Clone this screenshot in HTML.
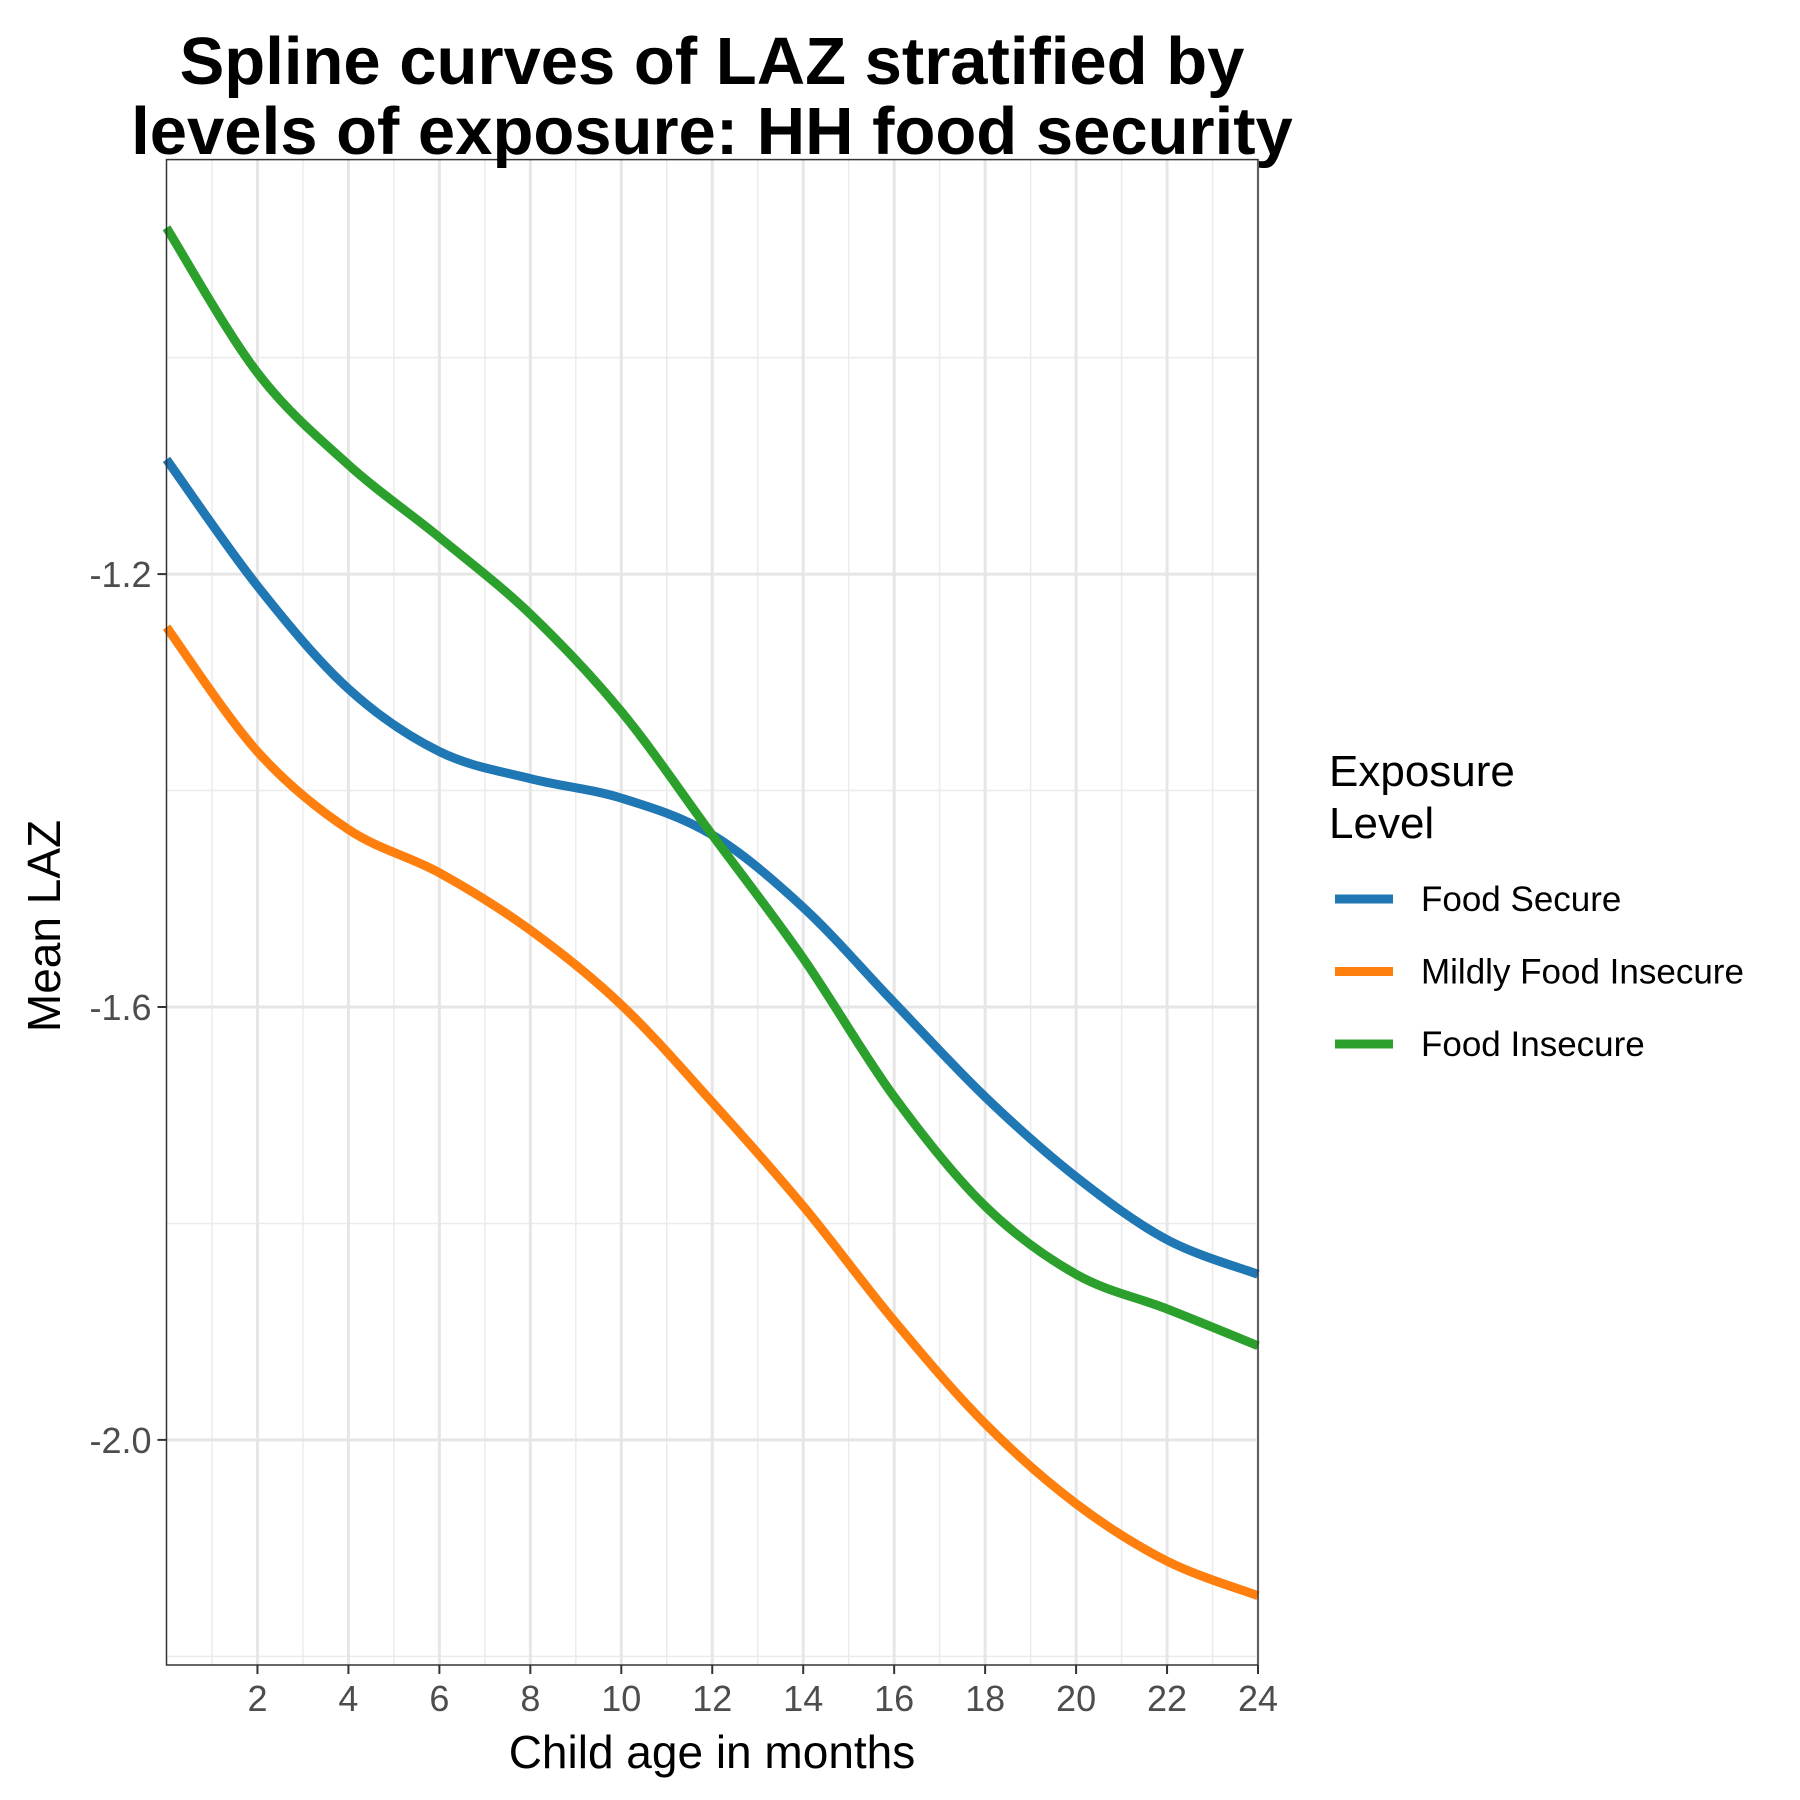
<!DOCTYPE html>
<html><head><meta charset="utf-8"><style>body{margin:0;background:#fff}svg{display:block;font-family:"Liberation Sans",Arial,sans-serif}</style></head>
<body>
<svg id="chart" width="1800" height="1800" viewBox="0 0 1800 1800">
<g id="grid"></g>
<g id="series"></g>
<rect x="166.5" y="159.6" width="1091.5" height="1505.4" fill="none" stroke="#333" stroke-width="1.5"/>
<g id="axes"></g>
<text x="712" y="84" text-anchor="middle" font-size="67" font-weight="bold">Spline curves of LAZ stratified by</text>
<text x="712" y="154" text-anchor="middle" font-size="67" font-weight="bold">levels of exposure: HH food security</text>
<text x="712" y="1768" text-anchor="middle" font-size="46">Child age in months</text>
<text transform="translate(60,926) rotate(-90)" text-anchor="middle" font-size="46">Mean LAZ</text>
<g>
<text x="1329" y="786" font-size="44">Exposure</text>
<text x="1329" y="838" font-size="44">Level</text>
<g id="legend-items"></g>
</g>
</svg>
<script>
const months=[0,2,4,6,8,10,12,14,16,18,20,22,24];
const foodSecure=[-1.094,-1.211,-1.306,-1.364,-1.389,-1.407,-1.441,-1.508,-1.596,-1.683,-1.757,-1.815,-1.847];
const mildlyInsecure=[-1.249,-1.364,-1.436,-1.476,-1.529,-1.598,-1.688,-1.784,-1.890,-1.985,-2.059,-2.112,-2.144];
const foodInsecure=[-0.880,-1.014,-1.099,-1.166,-1.237,-1.327,-1.441,-1.555,-1.683,-1.784,-1.847,-1.879,-1.913];
const seriesNames=["Food Secure","Mildly Food Insecure","Food Insecure"];
const xTicks=[2,4,6,8,10,12,14,16,18,20,22,24];
const yTicks=[-1.2,-1.6,-2.0];
const yTickLabels=["-1.2","-1.6","-2.0"];
const yMinor=[-1.0,-1.4,-1.8,-2.2];

const NS="http://www.w3.org/2000/svg";
const X0=166.5,X1=1258,Y0=159.6,Y1=1665;
const xMin=0,xMax=24,yMax=-0.817,yMin=-2.208;
function sx(v){return X0+(v-xMin)/(xMax-xMin)*(X1-X0);}
function sy(v){return Y0+(yMax-v)/(yMax-yMin)*(Y1-Y0);}
function mk(tag,attrs,parent){const e=document.createElementNS(NS,tag);for(const k in attrs)e.setAttribute(k,attrs[k]);parent.appendChild(e);return e;}
const grid=document.getElementById('grid'),axes=document.getElementById('axes'),ser=document.getElementById('series'),leg=document.getElementById('legend-items');
for(let m=1;m<24;m+=2){const l=mk('line',{x1:sx(m),x2:sx(m),y1:Y0,y2:Y1,stroke:'#ebebeb','stroke-width':1.5},grid);

}
yMinor.forEach(v=>{const l=mk('line',{x1:X0,x2:X1,y1:sy(v),y2:sy(v),stroke:'#ebebeb','stroke-width':1.5},grid);

});
xTicks.forEach(v=>{const l=mk('line',{x1:sx(v),x2:sx(v),y1:Y0,y2:Y1,stroke:'#e6e6e6','stroke-width':3},grid);


const t=mk('line',{x1:sx(v),x2:sx(v),y1:Y1,y2:Y1+9,stroke:'#333','stroke-width':2},axes);


const tx=mk('text',{x:sx(v),y:Y1+46,'text-anchor':'middle','font-size':36,fill:'#4d4d4d'},axes);
tx.textContent=v;

});
yTicks.forEach((v,i)=>{const l=mk('line',{x1:X0,x2:X1,y1:sy(v),y2:sy(v),stroke:'#e6e6e6','stroke-width':3},grid);


const t=mk('line',{x1:X0-9,x2:X0,y1:sy(v),y2:sy(v),stroke:'#333','stroke-width':2},axes);


const tx=mk('text',{x:X0-15,y:sy(v)+13,'text-anchor':'end','font-size':36,fill:'#4d4d4d'},axes);
tx.textContent=yTickLabels[i];

});
function pathFor(ys){const p=months.map((m,i)=>[sx(m),sy(ys[i])]);let d='M'+p[0][0]+','+p[0][1];
for(let i=0;i<p.length-1;i++){const a=p[Math.max(0,i-1)],b=p[i],c=p[i+1],e=p[Math.min(p.length-1,i+2)];
d+=' C'+(b[0]+(c[0]-a[0])/6)+','+(b[1]+(c[1]-a[1])/6)+' '+(c[0]-(e[0]-b[0])/6)+','+(c[1]-(e[1]-b[1])/6)+' '+c[0]+','+c[1];}return d;}
const data=[foodSecure,mildlyInsecure,foodInsecure];
const colors=['#1f77b4','#ff7f0e','#2ca02c'];
const keys=['food-secure','mildly-food-insecure','food-insecure'];
data.forEach((ys,i)=>{const p=mk('path',{d:pathFor(ys),fill:'none',stroke:colors[i],'stroke-width':9},ser);


const y=899+i*72.5;
const g=mk('g',{},leg);


mk('line',{x1:1335,x2:1393,y1:y,y2:y,stroke:colors[i],'stroke-width':9},g);
const t=mk('text',{x:1421,y:y+12,'font-size':35},g);t.textContent=seriesNames[i];});
</script>
</body></html>
